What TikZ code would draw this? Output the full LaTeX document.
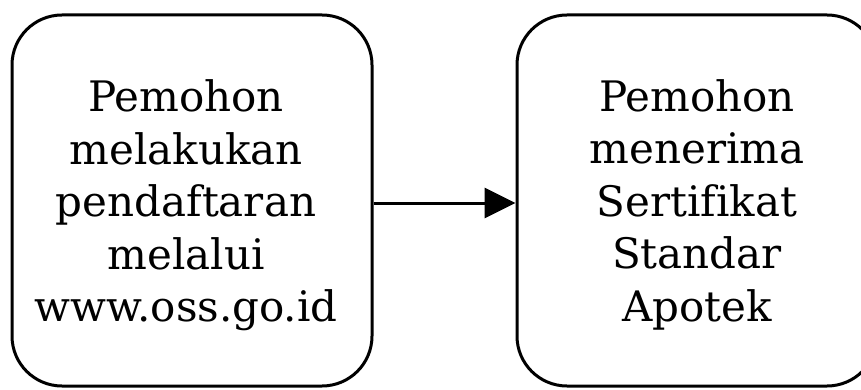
\documentclass[tikz,border=0pt]{standalone}
\usepackage{fontspec}
\setmainfont[Ligatures=NoCommon]{DejaVu Serif}
\usetikzlibrary{arrows.meta}
\begin{document}
\begin{tikzpicture}[x=1pt,y=-1pt,
  stepbox/.style={draw=black, line width=3pt, rounded corners=50pt,
    minimum width=360pt, minimum height=371pt, inner sep=0pt},
  steptext/.style={align=center, font=\fontsize{42}{52.5}\selectfont, inner sep=0pt},
  conn/.style={line width=3pt, -{Triangle[length=31pt,width=30pt]}}]
\useasboundingbox (0,0) rectangle (861,390);
\node[stepbox] (a) at (192,200.5) {};
\node[stepbox] (b) at (697,200.5) {};
\node[steptext] (ta) at ([xshift=-6pt,yshift=-5pt]a.center) {Pemohon\\melakukan\\pendaftaran\\melalui\\www.oss.go.id};
\node[steptext] (tb) at ([yshift=-4pt]b.center) {Pemohon\\menerima\\Sertifikat\\Standar\\Apotek};
\draw[conn] ([yshift=-2.5pt]a.east) -- ([yshift=-2.5pt]b.west);
\end{tikzpicture}
\end{document}
